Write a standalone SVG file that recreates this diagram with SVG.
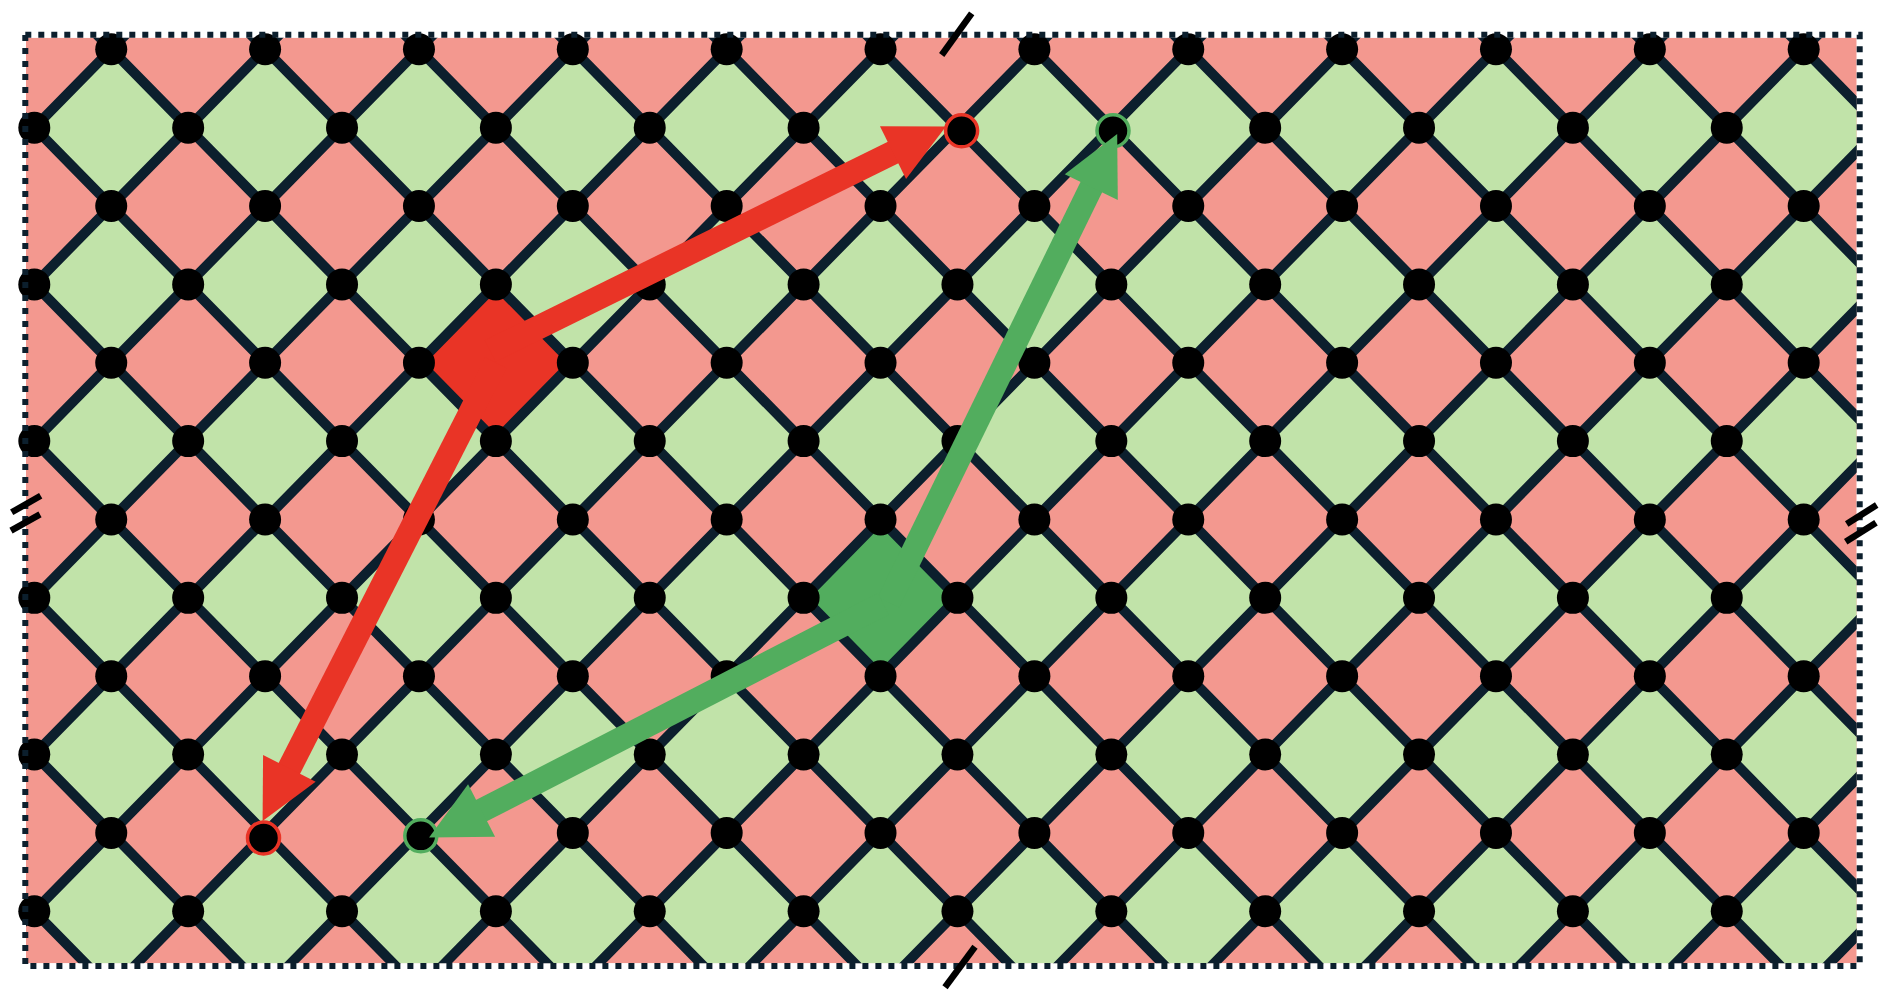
<svg xmlns="http://www.w3.org/2000/svg" width="1886" height="1000" viewBox="0 0 1886 1000">
<style>
.edges{fill:none;stroke:#0c1f2d;stroke-width:10;stroke-linecap:butt}
.dots{fill:#000}
.ring{fill:#000;stroke-width:3.5}
.red{stroke:#e93426}
.grn{stroke:#52ad5e}
.arrow{fill:none;stroke-width:24;stroke-linecap:butt}
.brk{stroke:#000;stroke-width:6.5;stroke-linecap:butt}
.frame{fill:none;stroke:#0c1f2d;stroke-width:6;stroke-dasharray:6 7}
</style>
<defs>
<clipPath id="area"><rect x="26" y="37.7" width="1830.7" height="925.6"/></clipPath>
<pattern id="tiles" patternUnits="userSpaceOnUse" x="34.3" y="49.3" width="153.86" height="156.72">
<polygon points="0,78.36 76.93,0 153.86,78.36 76.93,156.72" fill="#c1e3a9"/>
</pattern>
<ellipse id="d" rx="0.20798" ry="0.20419"/>
<g id="rowOdd"><use href="#d" x="1"/><use href="#d" x="3"/><use href="#d" x="5"/><use href="#d" x="7"/><use href="#d" x="9"/><use href="#d" x="11"/><use href="#d" x="13"/><use href="#d" x="15"/><use href="#d" x="17"/><use href="#d" x="19"/><use href="#d" x="21"/><use href="#d" x="23"/></g>
<g id="rowEven"><use href="#d" x="0"/><use href="#d" x="2"/><use href="#d" x="4"/><use href="#d" x="6"/><use href="#d" x="8"/><use href="#d" x="10"/><use href="#d" x="12"/><use href="#d" x="14"/><use href="#d" x="16"/><use href="#d" x="18"/><use href="#d" x="20"/><use href="#d" x="22"/></g>
<marker id="headRed" markerUnits="userSpaceOnUse" viewBox="0 -30 59 60" markerWidth="59" markerHeight="60" refX="3" refY="0" orient="auto" overflow="visible"><path d="M0,-29.5L59,0L0,29.5Z" fill="#e93426"/></marker>
<marker id="headGrn" markerUnits="userSpaceOnUse" viewBox="0 -30 59 60" markerWidth="59" markerHeight="60" refX="3" refY="0" orient="auto" overflow="visible"><path d="M0,-29.5L59,0L0,29.5Z" fill="#52ad5e"/></marker>
</defs>

<g id="tiling" clip-path="url(#area)">
<rect x="26" y="37.7" width="1830.7" height="925.6" fill="#f3988f"/>
<rect x="26" y="37.7" width="1830.7" height="925.6" fill="url(#tiles)"/>
<g id="red-cell"><polygon points="418.95,362.74 495.88,284.38 572.81,362.74 495.88,441.1" fill="#e93426"/></g>
<g id="green-cell"><polygon points="803.6,597.82 880.53,519.46 957.46,597.82 880.53,676.18" fill="#52ad5e"/></g>
<g id="connectors" transform="matrix(76.93 0 0 78.36 34.3 49.3)">
<path class="edges" vector-effect="non-scaling-stroke" d="M-12,-1L2,13M-10,-1L4,13M-8,-1L6,13M-6,-1L8,13M-4,-1L10,13M-2,-1L12,13M0,-1L14,13M2,-1L16,13M4,-1L18,13M6,-1L20,13M8,-1L22,13M10,-1L24,13M12,-1L26,13M14,-1L28,13M16,-1L30,13M18,-1L32,13M20,-1L34,13M22,-1L36,13M2,-1L-12,13M4,-1L-10,13M6,-1L-8,13M8,-1L-6,13M10,-1L-4,13M12,-1L-2,13M14,-1L0,13M16,-1L2,13M18,-1L4,13M20,-1L6,13M22,-1L8,13M24,-1L10,13M26,-1L12,13M28,-1L14,13M30,-1L16,13M32,-1L18,13M34,-1L20,13M36,-1L22,13"/>
</g>
</g>

<g id="lattice-nodes" class="dots" transform="matrix(76.93 0 0 78.36 34.3 49.3)">
<use href="#rowOdd" y="0"/>
<g id="row1"><use href="#d" x="0" y="1"/><use href="#d" x="2" y="1"/><use href="#d" x="4" y="1"/><use href="#d" x="6" y="1"/><use href="#d" x="8" y="1"/><use href="#d" x="10" y="1"/><use href="#d" x="16" y="1"/><use href="#d" x="18" y="1"/><use href="#d" x="20" y="1"/><use href="#d" x="22" y="1"/></g>
<use href="#rowOdd" y="2"/>
<use href="#rowEven" y="3"/>
<use href="#rowOdd" y="4"/>
<use href="#rowEven" y="5"/>
<use href="#rowOdd" y="6"/>
<use href="#rowEven" y="7"/>
<use href="#rowOdd" y="8"/>
<use href="#rowEven" y="9"/>
<g id="row10"><use href="#d" x="1" y="10"/><use href="#d" x="7" y="10"/><use href="#d" x="9" y="10"/><use href="#d" x="11" y="10"/><use href="#d" x="13" y="10"/><use href="#d" x="15" y="10"/><use href="#d" x="17" y="10"/><use href="#d" x="19" y="10"/><use href="#d" x="21" y="10"/><use href="#d" x="23" y="10"/></g>
<use href="#rowEven" y="11"/>
</g>

<g id="target-red-1"><circle class="ring red" cx="961.6" cy="130.8" r="16"/></g>
<g id="target-green-1"><circle class="ring grn" cx="1113" cy="130.8" r="16"/></g>
<g id="target-red-2"><circle class="ring red" cx="263.5" cy="838" r="16"/></g>
<g id="target-green-2"><circle class="ring grn" cx="420.8" cy="835.8" r="16"/></g>

<g id="arrows">
<line class="arrow red" x1="490.1" y1="351.1" x2="895.7" y2="151.3" marker-end="url(#headRed)"/>
<line class="arrow red" x1="495.88" y1="362.74" x2="288" y2="771" marker-end="url(#headRed)"/>
<line class="arrow grn" x1="888.5" y1="602.2" x2="1092.6" y2="184.4" marker-end="url(#headGrn)"/>
<line class="arrow grn" x1="883.2" y1="604" x2="478.9" y2="811.9" marker-end="url(#headGrn)"/>
</g>

<rect id="frame" class="frame" x="25.3" y="34.7" width="1834.4" height="931.3"/>

<g id="breaks">
<line class="brk" x1="11.7" y1="512.3" x2="40.7" y2="495.7"/>
<line class="brk" x1="11" y1="530.7" x2="40" y2="514.3"/>
<line class="brk" x1="1846.7" y1="524" x2="1876.7" y2="505"/>
<line class="brk" x1="1845.7" y1="541.7" x2="1876" y2="522.7"/>
<line class="brk" x1="941.7" y1="55" x2="971.7" y2="13.3"/>
<line class="brk" x1="945" y1="987.3" x2="975" y2="946.7"/>
</g>
</svg>
